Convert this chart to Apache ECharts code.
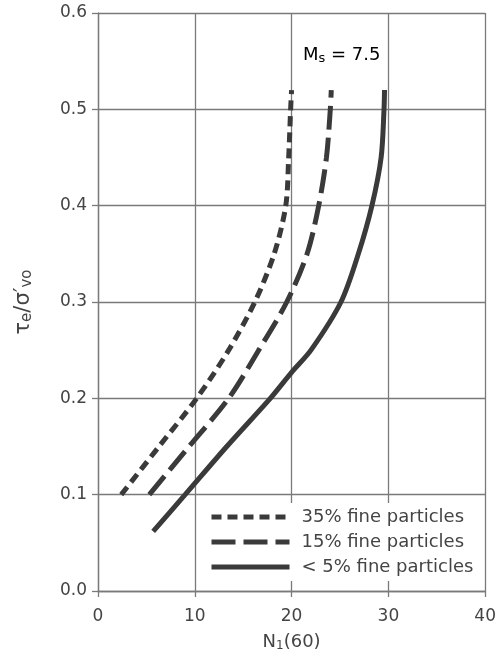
<!DOCTYPE html>
<html>
<head>
<meta charset="utf-8">
<script src="https://cdn.jsdelivr.net/npm/echarts@6/dist/echarts.min.js"></script>
<style>
  html, body { margin: 0; padding: 0; background: #fff; }
  #chart { width: 499px; height: 659px; }
</style>
</head>
<body>
<div id="chart"></div>
<script>
// values: x = N1(60), y = stress ratio
const seriesNames = ['35% fine particles', '15% fine particles', '< 5% fine particles']
const fines35X = [2.4, 6.3, 10.2, 13.5, 16.2, 18.2, 19.4, 19.7, 19.9, 20.0]
const fines35Y = [0.10, 0.15, 0.20, 0.25, 0.30, 0.35, 0.40, 0.45, 0.50, 0.52]
const fines15X = [5.3, 9.4, 13.5, 16.6, 19.5, 21.6, 22.8, 23.6, 24.0, 24.1]
const fines15Y = [0.10, 0.15, 0.20, 0.25, 0.30, 0.35, 0.40, 0.45, 0.50, 0.52]
const fines5X = [5.7, 9.0, 13.3, 17.8, 20.0, 22.0, 25.1, 26.9, 28.3, 29.25, 29.55, 29.6]
const fines5Y = [0.062, 0.10, 0.15, 0.20, 0.227, 0.25, 0.30, 0.35, 0.40, 0.45, 0.50, 0.52]
const xTicks = [0, 10, 20, 30, 40]
const yTicks = [0, 0.1, 0.2, 0.3, 0.4, 0.5, 0.6]

const font = 'DejaVu Sans'
const ink = '#3a3a3a'
const gridColor = '#7a7a7a'

// rich text styles for subscripts
function subRich(size, subSize, drop) {
    return {
        a: { fontSize: size, fontFamily: font, color: '#444', verticalAlign: 'top', lineHeight: size + 1 },
        s: { fontSize: subSize, fontFamily: font, color: '#444', verticalAlign: 'bottom', lineHeight: subSize, padding: [drop, 0, 0, 0] }
    }
}

function pairs(xs, ys) {
    return xs.map((x, i) => [x, ys[i]])
}

const chart = echarts.init(document.getElementById('chart'))

chart.setOption({
    backgroundColor: '#fff',
    animation: false,
    textStyle: { fontFamily: font },
    grid: { left: 98, right: 12, top: 13, bottom: 68 },
    xAxis: {
        type: 'value',
        min: xTicks[0],
        max: xTicks[xTicks.length - 1],
        interval: 10,
        name: '{a|N}{s|1}{a|(60)}',
        nameLocation: 'middle',
        nameGap: 39,
        nameTextStyle: { rich: subRich(18, 12, 10) },
        axisLine: { lineStyle: { color: gridColor, width: 1.3 } },
        axisTick: { show: true, length: 6, lineStyle: { color: gridColor, width: 1.3 } },
        axisLabel: { color: '#444', fontSize: 17, fontFamily: font, margin: 17 },
        splitLine: { lineStyle: { color: gridColor, width: 1.3 } }
    },
    yAxis: {
        type: 'value',
        min: yTicks[0],
        max: yTicks[yTicks.length - 1],
        interval: 0.1,
        name: '{a|τ}{s|e}{a|/σ′}{s|vo}',
        nameLocation: 'middle',
        nameGap: 63,
        nameRotate: 90,
        nameTextStyle: { rich: subRich(21, 15, 11) },
        axisLine: { show: true, lineStyle: { color: gridColor, width: 1.3 } },
        axisTick: { show: true, length: 6, lineStyle: { color: gridColor, width: 1.3 } },
        axisLabel: {
            color: '#444', fontSize: 17, fontFamily: font, margin: 11,
            formatter: v => v.toFixed(1)
        },
        splitLine: { lineStyle: { color: gridColor, width: 1.3 } }
    },
    legend: {
        orient: 'vertical',
        left: 200,
        top: 503,
        backgroundColor: '#fff',
        padding: [5, 10, 5, 9],
        itemWidth: 78,
        itemHeight: 16,
        itemGap: 7,
        lineStyle: { width: 5 },
        itemStyle: { opacity: 0 },
        textStyle: { color: '#444', fontSize: 18, fontFamily: font, padding: [0, 0, 0, 7] },
        data: seriesNames
    },
    graphic: [{
        type: 'text',
        left: 303,
        top: 42,
        style: {
            text: '{a|M}{s|s}{a| = 7.5}',
            rich: subRich(18, 13, 10)
        }
    }],
    series: [
        {
            name: seriesNames[0],
            type: 'line',
            smooth: 0.3,
            showSymbol: false,
            symbol: 'none',
            lineStyle: { color: ink, width: 5, type: [10, 6], cap: 'butt' },
            itemStyle: { color: ink },
            data: pairs(fines35X, fines35Y)
        },
        {
            name: seriesNames[1],
            type: 'line',
            smooth: 0.3,
            showSymbol: false,
            symbol: 'none',
            lineStyle: { color: ink, width: 5, type: [24, 8], cap: 'butt' },
            itemStyle: { color: ink },
            data: pairs(fines15X, fines15Y)
        },
        {
            name: seriesNames[2],
            type: 'line',
            smooth: 0.3,
            showSymbol: false,
            symbol: 'none',
            lineStyle: { color: ink, width: 5, cap: 'butt' },
            itemStyle: { color: ink },
            data: pairs(fines5X, fines5Y)
        }
    ]
})
</script>
</body>
</html>
